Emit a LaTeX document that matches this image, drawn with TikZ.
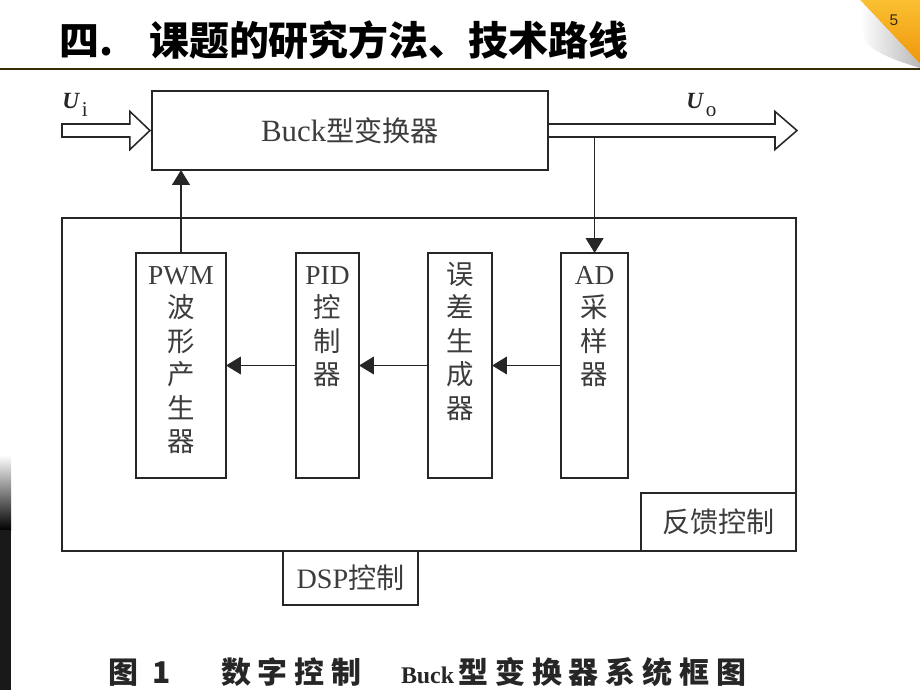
\documentclass[tikz,border=0pt]{standalone}
\usepackage{fontspec}
\setmainfont{Liberation Serif}
\newfontfamily\cjk{Noto Sans CJK SC}
\newfontfamily\capfont[LetterSpace=23]{Noto Sans CJK SC}
\newfontfamily\numfont{Liberation Sans}
\usetikzlibrary{calc,positioning,arrows.meta}

\definecolor{rulebrown}{RGB}{55,45,5}
\definecolor{cornerorange}{RGB}{240,150,10}
\definecolor{corneryellow}{RGB}{250,192,50}
\definecolor{inkgray}{RGB}{38,38,38}
\definecolor{textgray}{RGB}{60,60,60}

\newcommand{\lat}[1]{{\rmfamily #1}}
\newcommand{\vstrut}{\rule{0pt}{20pt}}

\begin{document}
\begin{tikzpicture}[
        x=0.025cm, y=-0.025cm,
        >={Triangle[length=10.5pt,width=12.5pt]},
        frame/.style={
            rectangle,
            draw=inkgray,
            line width=1.1pt,
            inner sep=0pt,
            outer sep=0pt,
            text=textgray,
            font=\cjk\fontsize{20}{24}\selectfont
        },
        block/.style={
            frame,
            minimum height=5.625cm
        },
        vtext/.style={
            anchor=north,
            align=center,
            inner sep=0pt,
            text=textgray,
            font=\cjk\fontsize{19.5}{23.8}\selectfont
        },
        ulabel/.style={
            anchor=base west,
            inner sep=0pt,
            text=inkgray,
            font=\fontsize{16.5}{18}\selectfont
        },
        arrow/.style={
            ->,
            line width=1.1pt,
            inkgray
        },
        hollow/.style={
            draw=inkgray,
            line width=1.1pt
        }
    ]
    \useasboundingbox (0,0) rectangle (920,690);

    % Slide decoration
    \shade[top color=corneryellow, bottom color=cornerorange]
        (860,0) -- (920,0) -- (920,64) -- cycle;
    \shade[left color=white, right color=gray!55]
        (860,0) -- (920,64) -- (920,68) .. controls (893,60) and (868,50) .. (864,38)
        .. controls (862,25) and (861,10) .. (860,0) -- cycle;
    \node[font=\numfont\fontsize{11}{12}\selectfont, text=rulebrown] (pagenum) at (894,20) {5};
    \draw[rulebrown, line width=1.6pt] (0,69) -- (920,69);
    \shade[top color=white, bottom color=black] (0,455) rectangle (11,530);
    \fill[black!90] (0,530) rectangle (11,690);

    % Title
    \node[anchor=base west, inner sep=0pt, font=\cjk\bfseries\fontsize{28.4}{30}\selectfont] (title)
        at (59,56) {四.\hspace{0.9em}课题的研究方法、技术路线};

    % Converter
    \node[frame, minimum width=9.9cm, minimum height=1.975cm] (buck)
        at (350,130.5) {\lat{\fontsize{22}{24}\selectfont Buck}型变换器};

    % DSP part
    \node[frame, minimum width=18.35cm, minimum height=8.325cm] (dspbox) at (429,384.5) {};
    \node[frame, anchor=south east, minimum width=3.875cm, minimum height=1.45cm] (fbbox)
        at (dspbox.south east) {反馈控制};
    \node[frame, anchor=north west, minimum width=3.375cm, minimum height=1.35cm] (dspctl)
        at (dspbox.south west -| 283,0) {\lat{DSP}控制};

    % Inner blocks
    \node[block, minimum width=2.25cm] (pwm) at (181,365.5) {};
    \node[block, minimum width=1.575cm, right=1.75cm of pwm] (pid) {};
    \node[block, minimum width=1.6cm, right=1.725cm of pid] (err) {};
    \node[block, minimum width=1.675cm, right=1.725cm of err] (adc) {};

    \node[vtext, below=2pt of pwm.north] (pwmtxt) {\vstrut\lat{PWM}\\波\\形\\产\\生\\器};
    \node[vtext, below=2pt of pid.north] (pidtxt) {\vstrut\lat{PID}\\控\\制\\器};
    \node[vtext, below=2pt of err.north] (errtxt) {\vstrut 误\\差\\生\\成\\器};
    \node[vtext, below=2pt of adc.north] (adctxt) {\vstrut\lat{AD}\\采\\样\\器};

    % Input and output
    \coordinate (uin) at (62,130.5);
    \coordinate (uout) at (797,130.5);
    \draw[hollow] ($(buck.west)+(-2,0)$) -- ($(buck.west)+(-22,-19)$) -- ($(buck.west)+(-22,-6.5)$)
        -- ($(uin)+(0,-6.5)$) -- ($(uin)+(0,6.5)$) -- ($(buck.west)+(-22,6.5)$)
        -- ($(buck.west)+(-22,19)$) -- cycle;
    \draw[hollow] ($(buck.east)+(0,-6.5)$) -- ($(uout)+(-22,-6.5)$) -- ($(uout)+(-22,-19)$)
        -- (uout) -- ($(uout)+(-22,19)$) -- ($(uout)+(-22,6.5)$) -- ($(buck.east)+(0,6.5)$);
    \node[ulabel] (uilab) at (62,108)
        {{\bfseries\itshape U}\hspace{2pt}\raisebox{-6pt}{\fontsize{15}{16}\selectfont i}};
    \node[ulabel] (uolab) at (686,108)
        {{\bfseries\itshape U}\hspace{2pt}\raisebox{-6pt}{\fontsize{15}{16}\selectfont o}};

    % Arrows
    \coordinate (tap) at ($(adc.north |- buck.east)+(0,6.5)$);
    \draw[arrow] (tap) -- (adc.north);
    \draw[arrow] (adc.west) -- (err.east);
    \draw[arrow] (err.west) -- (pid.east);
    \draw[arrow] (pid.west) -- (pwm.east);
    \draw[arrow] (pwm.north) -- (pwm.north |- buck.south);

    % Caption
    \node[anchor=base west, inner sep=0pt, text=black!85,
        font=\capfont\bfseries\fontsize{21.3}{24}\selectfont] (caption) at (108,683)
        {图\hspace{10pt}1\hspace{36pt}数字控制\hspace{28pt}{\rmfamily\bfseries\fontsize{17}{20}\selectfont Buck}\hspace{3pt}型变换器系统框图};
\end{tikzpicture}
\end{document}
